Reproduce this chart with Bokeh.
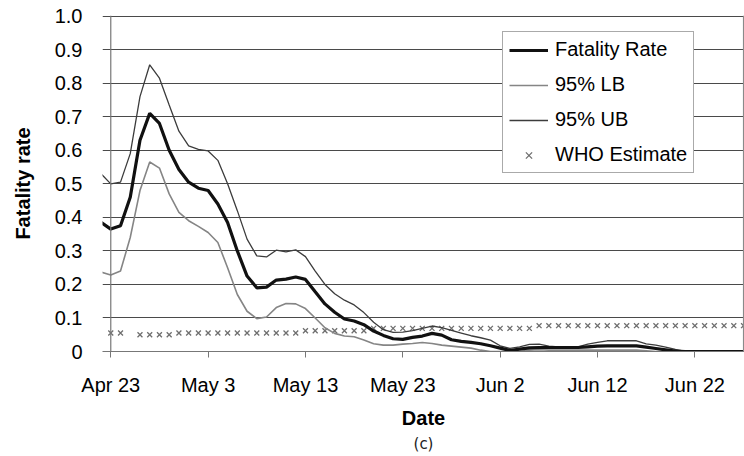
from bokeh.plotting import figure
from bokeh.models import Range1d, FixedTicker, Span, Legend, LegendItem, Title, ColumnDataSource
from bokeh.embed import file_html
from bokeh.resources import INLINE

# ---- data (days counted from Apr 23) ----
days = list(range(-1, 66))
fatality_rate = [0.385, 0.365, 0.375, 0.46, 0.63, 0.71, 0.68, 0.60, 0.543, 0.505,
                 0.487, 0.48, 0.44, 0.385, 0.30, 0.225, 0.19, 0.192, 0.213, 0.216,
                 0.222, 0.215, 0.178, 0.142, 0.117, 0.097, 0.091, 0.080, 0.061, 0.048,
                 0.038, 0.036, 0.042, 0.046, 0.054, 0.049, 0.035, 0.030, 0.027, 0.023,
                 0.017, 0.010, 0.003, 0.007, 0.011, 0.012, 0.012, 0.012, 0.012, 0.012,
                 0.014, 0.016, 0.017, 0.017, 0.017, 0.017, 0.013, 0.009, 0.005, 0.001,
                 0, 0, 0, 0, 0, 0, 0]
lb_95 = [0.237, 0.228, 0.24, 0.34, 0.48, 0.565, 0.547, 0.47, 0.415, 0.39,
         0.373, 0.355, 0.325, 0.25, 0.17, 0.12, 0.098, 0.103, 0.131, 0.143,
         0.142, 0.128, 0.10, 0.071, 0.054, 0.046, 0.044, 0.034, 0.023, 0.019,
         0.019, 0.022, 0.024, 0.027, 0.024, 0.019, 0.016, 0.013, 0.010, 0.004,
         0.0, 0.0, 0.0, 0.0, 0.004, 0.005, 0.004, 0.004, 0.004, 0.004,
         0.004, 0.004, 0.004, 0.004, 0.004, 0.004, 0.002, 0, 0, 0,
         0, 0, 0, 0, 0, 0, 0]
ub_95 = [0.53, 0.50, 0.505, 0.59, 0.76, 0.855, 0.815, 0.735, 0.657, 0.613,
         0.603, 0.598, 0.57, 0.50, 0.42, 0.335, 0.285, 0.282, 0.302, 0.297,
         0.303, 0.283, 0.24, 0.20, 0.172, 0.153, 0.139, 0.116, 0.087, 0.065,
         0.057, 0.058, 0.062, 0.069, 0.076, 0.071, 0.063, 0.055, 0.047, 0.041,
         0.034, 0.017, 0.009, 0.014, 0.021, 0.022, 0.016, 0.014, 0.014, 0.014,
         0.022, 0.027, 0.032, 0.032, 0.032, 0.032, 0.023, 0.019, 0.013, 0.006,
         0, 0, 0, 0, 0, 0, 0]
who_days = [0, 1] + list(range(3, 66))
who_estimate = ([0.055, 0.055] + [0.050] * 4 + [0.055] * 13 + [0.062] * 7
                + [0.069] * 17 + [0.077] * 22)

x_tick_days = [0, 10, 20, 30, 40, 50, 60]
x_tick_labels = ["Apr 23", "May 3", "May 13", "May 23", "Jun 2", "Jun 12", "Jun 22"]
y_ticks = [0, 0.1, 0.2, 0.3, 0.4, 0.5, 0.6, 0.7, 0.8, 0.9, 1.0]
y_tick_labels = ["0", "0.1", "0.2", "0.3", "0.4", "0.5", "0.6", "0.7", "0.8", "0.9", "1.0"]

FONT = "Liberation Sans"

p = figure(width=744, height=456, output_backend="svg", toolbar_location=None,
           x_range=Range1d(-0.85, 65.1), y_range=Range1d(0, 1.002),
           min_border_left=102, min_border_right=0, min_border_top=15,
           min_border_bottom=105)
p.outline_line_color = None
p.background_fill_color = "white"

# grid
p.xgrid.grid_line_color = None
p.ygrid.ticker = FixedTicker(ticks=y_ticks)
p.ygrid.grid_line_color = "#4a4a4a"
p.ygrid.grid_line_width = 1

# x axis
xa = p.xaxis[0]
xa.ticker = FixedTicker(ticks=x_tick_days)
xa.major_label_overrides = {d: l for d, l in zip(x_tick_days, x_tick_labels)}
xa.minor_tick_line_color = None
xa.major_tick_out = 6
xa.major_tick_in = 0
xa.axis_line_color = "#777777"
xa.major_tick_line_color = "#777777"
xa.major_label_text_font = FONT
xa.major_label_text_font_size = "20px"
xa.major_label_text_color = "black"
xa.major_label_standoff = 16
xa.axis_label = "Date"
xa.axis_label_text_font = FONT
xa.axis_label_text_font_style = "bold"
xa.axis_label_text_font_size = "20px"
xa.axis_label_text_color = "black"
xa.axis_label_standoff = 8

# y axis
ya = p.yaxis[0]
ya.ticker = FixedTicker(ticks=y_ticks)
ya.major_label_overrides = {t: l for t, l in zip(y_ticks, y_tick_labels)}
ya.axis_line_color = None
ya.major_tick_line_color = None
ya.minor_tick_line_color = None
ya.major_tick_out = 0
ya.major_tick_in = 0
ya.major_label_text_font = FONT
ya.major_label_text_font_size = "20px"
ya.major_label_text_color = "black"
ya.major_label_standoff = 20
ya.axis_label = "Fatality rate"
ya.axis_label_text_font = FONT
ya.axis_label_text_font_style = "bold"
ya.axis_label_text_font_size = "20px"
ya.axis_label_text_color = "black"
ya.axis_label_standoff = 18

# vertical axis line at Apr 23 and right border
p.add_layout(Span(location=0, dimension="height", line_color="#777777", line_width=1.2))
p.add_layout(Span(location=65.0, dimension="height", line_color="#8a8a8a", line_width=1.2))

src = ColumnDataSource(data=dict(day=days, fr=fatality_rate, lb=lb_95, ub=ub_95))
who_src = ColumnDataSource(data=dict(day=who_days, who=who_estimate))

r_who = p.scatter("day", "who", source=who_src, marker="x", size=7,
                  line_color="#6e6e6e", line_width=1.3)
r_lb = p.line("day", "lb", source=src, line_color="#858585", line_width=1.6)
r_ub = p.line("day", "ub", source=src, line_color="#3c3c3c", line_width=1.3)
r_fr = p.line("day", "fr", source=src, line_color="#111111", line_width=3.2)

legend = Legend(items=[
    LegendItem(label="Fatality Rate", renderers=[r_fr]),
    LegendItem(label="95% LB", renderers=[r_lb]),
    LegendItem(label="95% UB", renderers=[r_ub]),
    LegendItem(label="WHO Estimate", renderers=[r_who]),
], location=(400, 178))
legend.label_text_font = FONT
legend.label_text_font_size = "20px"
legend.label_text_color = "black"
legend.glyph_width = 39
legend.glyph_height = 22
legend.label_height = 22
legend.label_standoff = 7
legend.spacing = 12
legend.padding = 6
legend.margin = 0
legend.border_line_color = "#555555"
legend.border_line_width = 1
legend.background_fill_color = "white"
legend.background_fill_alpha = 1.0
p.add_layout(legend, "center")

cap = Title(text="(c)", align="center", text_font="DejaVu Sans", standoff=3,
            text_font_size="15px", text_font_style="normal", text_color="#222222")
p.add_layout(cap, "below")

open("out.html", "w").write(file_html(p, INLINE))
